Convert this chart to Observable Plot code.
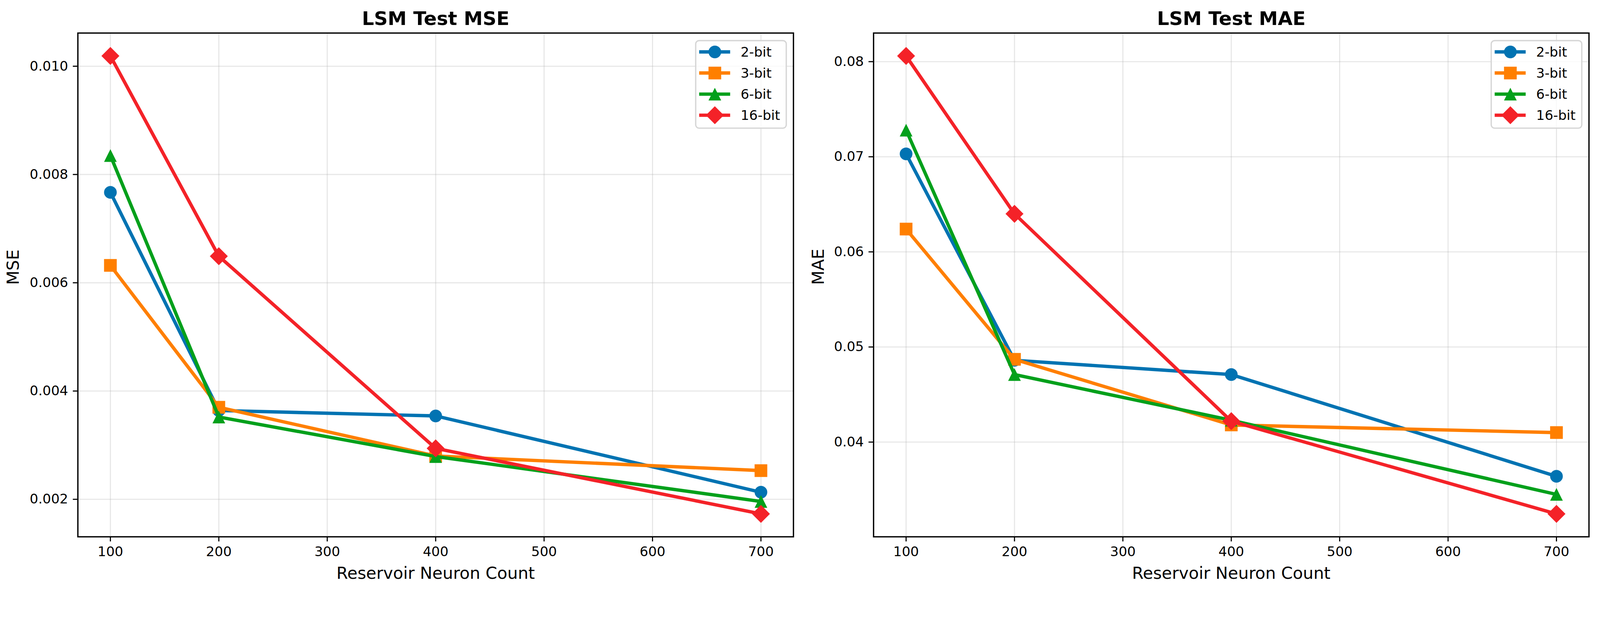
<!DOCTYPE html>
<html><head><meta charset="utf-8">
<script src="https://cdn.jsdelivr.net/npm/d3@7"></script>
<script src="https://cdn.jsdelivr.net/npm/@observablehq/plot@0.6"></script>
<style>
html,body{margin:0;padding:0;background:#fff;overflow:hidden;}
#fig{position:absolute;left:0;top:0;width:4284px;height:1590px;display:flex;font-family:"DejaVu Sans",sans-serif;background:#fff;transform-origin:0 0;}
.panel{position:relative;width:2142px;height:1590px;overflow:hidden;}
.panel > svg{display:block;}
.legend{position:absolute;}
</style></head><body><div id="fig"></div>
<script>
// ---- data ----
const neurons = [100, 200, 400, 700];
const bitLabels = ["2-bit", "3-bit", "6-bit", "16-bit"];
const colors = ["#0173B2", "#FF7F00", "#03A01B", "#F42228"];

const mse2bit = [0.00767, 0.00364, 0.00354, 0.00213];
const mse3bit = [0.00632, 0.00370, 0.00280, 0.00253];
const mse6bit = [0.00835, 0.00352, 0.00279, 0.00196];
const mse16bit = [0.01019, 0.00649, 0.00294, 0.00173];

const mae2bit = [0.0703, 0.0486, 0.0471, 0.0364];
const mae3bit = [0.0624, 0.0487, 0.0418, 0.0410];
const mae6bit = [0.0728, 0.0471, 0.0423, 0.0345];
const mae16bit = [0.0806, 0.0640, 0.0422, 0.03245];

const xTicks = [100, 200, 300, 400, 500, 600, 700];
const mseTicks = [0.002, 0.004, 0.006, 0.008, 0.010];
const maeTicks = [0.04, 0.05, 0.06, 0.07, 0.08];

// ---- matplotlib-like marker shapes ----
const symSquare = {draw(ctx, size) {const r = Math.sqrt(size / Math.PI); ctx.rect(-r, -r, 2 * r, 2 * r);}};
const symTriangle = {draw(ctx, size) {const r = Math.sqrt(size / Math.PI); ctx.moveTo(0, -r); ctx.lineTo(r, r); ctx.lineTo(-r, r); ctx.closePath();}};
const symDiamond = {draw(ctx, size) {const r = Math.sqrt(size / Math.PI) * Math.SQRT2; ctx.moveTo(0, -r); ctx.lineTo(r, 0); ctx.lineTo(0, r); ctx.lineTo(-r, 0); ctx.closePath();}};
const symbols = [d3.symbolCircle, symSquare, symTriangle, symDiamond];
const R = 17;

function makeTable(series) {
  return bitLabels.flatMap((b, i) => neurons.map((n, j) => ({bits: b, neurons: n, value: series[i][j]})));
}

function makePanel({title, ylabel, table, yTicks, yFmt, marginLeft, marginRight, ylabelX, legendLeft}) {
  const [lo, hi] = d3.extent(table, d => d.value);
  const pad = (hi - lo) * 0.05;
  const grid = {stroke: "#b0b0b0", strokeOpacity: 0.3, strokeWidth: 3};
  const marks = [
    Plot.gridX(xTicks, grid),
    Plot.gridY(yTicks, grid),
    Plot.axisX(xTicks, {tickSize: 13, tickPadding: 13, strokeWidth: 3, fontSize: 36, label: null, tickFormat: d3.format("d")}),
    Plot.axisY(yTicks, {tickSize: 13, tickPadding: 13, strokeWidth: 3, fontSize: 36, label: null, tickFormat: d3.format(yFmt)})
  ];
  bitLabels.forEach((b, i) => {
    const rows = table.filter(d => d.bits === b);
    marks.push(Plot.line(rows, {x: "neurons", y: "value", stroke: "bits", strokeWidth: 9, strokeLinejoin: "round", strokeLinecap: "butt"}));
    marks.push(Plot.dot(rows, {x: "neurons", y: "value", fill: "bits", symbol: symbols[i], r: R, stroke: null}));
  });
  marks.push(Plot.frame({stroke: "black", strokeWidth: 3.5}));
  marks.push(Plot.text([title], {text: d => d, frameAnchor: "top", lineAnchor: "bottom", dy: -22, fontSize: 51, fontWeight: "bold", fill: "black"}));
  marks.push(Plot.text(["Reservoir Neuron Count"], {text: d => d, frameAnchor: "bottom", lineAnchor: "bottom", dy: 113, fontSize: 44.5, fill: "black"}));
  marks.push(Plot.text([ylabel], {text: d => d, frameAnchor: "left", lineAnchor: "middle", rotate: -90, dx: ylabelX - marginLeft, fontSize: 44.5, fill: "black"}));

  const chart = Plot.plot({
    width: 2142, height: 1590,
    marginTop: 88, marginBottom: 153, marginLeft, marginRight,
    x: {domain: [70, 730]},
    y: {domain: [lo - pad, hi + pad]},
    color: {domain: bitLabels, range: colors},
    style: {fontFamily: "DejaVu Sans", fontSize: "36px", color: "black", background: "white"},
    marks
  });

  const panel = document.createElement("div");
  panel.className = "panel";
  panel.appendChild(chart);

  // legend (matplotlib-style box, upper right)
  const W = 246, H = 238, bw = 3.5, off = 4;
  const lg = d3.create("svg").attr("class", "legend")
    .attr("width", W + 2 * off).attr("height", H + 2 * off)
    .style("left", (legendLeft - off) + "px").style("top", (107 - off) + "px");
  lg.append("rect").attr("x", off + bw / 2).attr("y", off + bw / 2)
    .attr("width", W - bw).attr("height", H - bw).attr("rx", 9)
    .attr("fill", "rgba(255,255,255,0.8)").attr("stroke", "#d6d6d6").attr("stroke-width", bw);
  bitLabels.forEach((b, i) => {
    const cy = off + 32 + i * 56.5;
    lg.append("line").attr("x1", off + 11).attr("x2", off + 94).attr("y1", cy).attr("y2", cy)
      .attr("stroke", colors[i]).attr("stroke-width", 9);
    lg.append("path").attr("transform", `translate(${off + 53},${cy})`)
      .attr("d", d3.symbol(symbols[i], Math.PI * R * R)()).attr("fill", colors[i]);
    lg.append("text").attr("x", off + 122).attr("y", cy + 13)
      .attr("font-family", "DejaVu Sans").attr("font-size", 36).attr("fill", "black").text(b);
  });
  panel.appendChild(lg.node());
  return panel;
}

const fig = document.getElementById("fig");
fig.appendChild(makePanel({
  title: "LSM Test MSE", ylabel: "MSE",
  table: makeTable([mse2bit, mse3bit, mse6bit, mse16bit]),
  yTicks: mseTicks, yFmt: ".3f",
  marginLeft: 208, marginRight: 18, ylabelX: 35, legendLeft: 1861
}));
fig.appendChild(makePanel({
  title: "LSM Test MAE", ylabel: "MAE",
  table: makeTable([mae2bit, mae3bit, mae6bit, mae16bit]),
  yTicks: maeTicks, yFmt: ".2f",
  marginLeft: 196.5, marginRight: 30, ylabelX: 49, legendLeft: 1848.5
}));

function fit() {
  const s = Math.min(window.innerWidth / 4284, window.innerHeight / 1590);
  fig.style.transform = s < 0.999 ? `scale(${s})` : "none";
}
fit();
window.addEventListener("resize", fit);
</script></body></html>
